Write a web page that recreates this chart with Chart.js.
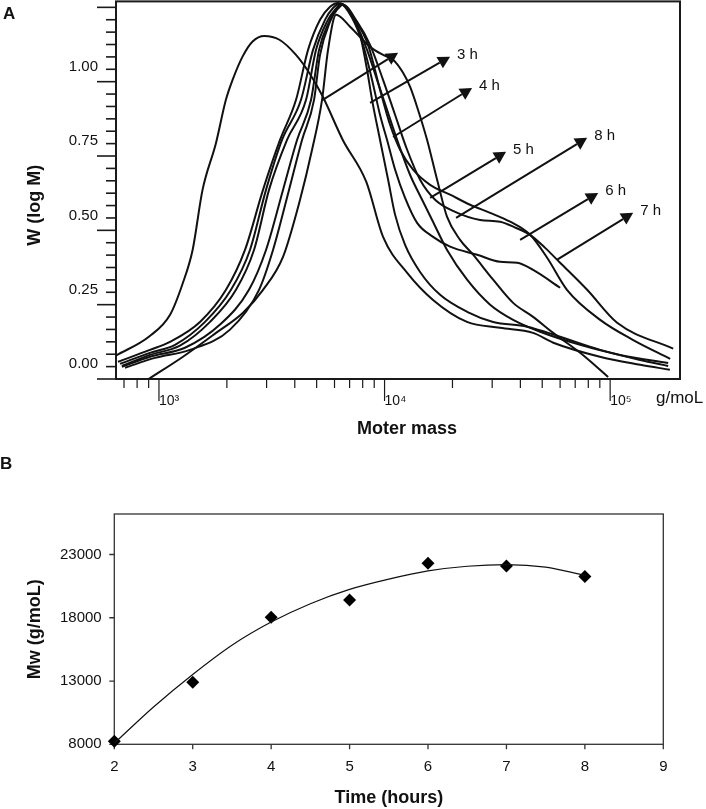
<!DOCTYPE html>
<html>
<head>
<meta charset="utf-8">
<script src="https://cdn.jsdelivr.net/npm/chart.js@4.4.1/dist/chart.umd.min.js"></script>
<style>
  html, body { margin: 0; padding: 0; background: #fff; }
  body { width: 706px; height: 809px; position: relative; overflow: hidden; font-family: 'Liberation Sans', Arial, sans-serif; }
  .panel { position: absolute; font-weight: bold; font-size: 17px; color: #111; }
  #wrapA { position: absolute; left: 0; top: 0; width: 706px; height: 445px; }
  #wrapB { position: absolute; left: 0; top: 440px; width: 706px; height: 369px; }
</style>
</head>
<body>
<div id="wrapA"><canvas id="chartA" width="706" height="445"></canvas></div>
<div id="wrapB"><canvas id="chartB" width="706" height="369"></canvas></div>
<div class="panel" style="left:3px;top:4px">A</div>
<div class="panel" style="left:0px;top:454px">B</div>
<script>
const FONT = "'Liberation Sans', Arial, sans-serif";

// ---- panel A : molar mass distribution, W(log M) vs M (g/mol) ----
const mass2h = [645, 905, 1120, 1275, 1410, 1560, 1790, 1980, 2120, 2350, 2600, 2930, 3420, 4050, 4640, 5320, 6530, 8300, 9850, 12600, 16400, 23200, 32500, 45500, 56000, 90000, 136000, 184000];
const w2h = [0.029, 0.093, 0.166, 0.272, 0.384, 0.586, 0.744, 0.889, 0.956, 1.035, 1.085, 1.104, 1.091, 1.040, 0.979, 0.900, 0.754, 0.613, 0.428, 0.307, 0.216, 0.142, 0.122, 0.105, 0.072, 0.025, -0.002, -0.019];

const mass3h = [658, 912, 1119, 1520, 1982, 2406, 2892, 3440, 4051, 4580, 5176, 5733, 6221, 7031, 7785, 8364, 8803, 9550, 10370, 11140, 12330, 14370, 17630, 23220, 30290, 42840, 60000, 90310, 135800, 180800];
const w3h = [0.008, 0.048, 0.075, 0.142, 0.250, 0.384, 0.586, 0.754, 0.889, 1.057, 1.158, 1.202, 1.215, 1.185, 1.108, 0.990, 0.889, 0.754, 0.620, 0.502, 0.401, 0.310, 0.233, 0.176, 0.142, 0.126, 0.092, 0.048, 0.014, -0.006];

const mass4h = [672, 912, 1178, 1600, 2086, 2532, 2982, 3511, 4263, 4819, 5447, 5909, 6350, 7174, 8028, 8803, 9550, 10260, 11140, 12330, 13940, 16410, 19520, 25720, 32530, 38700, 45550, 60000];
const w4h = [0.001, 0.038, 0.065, 0.142, 0.250, 0.384, 0.586, 0.754, 0.889, 1.057, 1.158, 1.198, 1.212, 1.165, 1.074, 0.956, 0.838, 0.754, 0.654, 0.559, 0.475, 0.428, 0.395, 0.368, 0.344, 0.341, 0.317, 0.257];

const mass5h = [685, 912, 1239, 1684, 2195, 2638, 3075, 3695, 4487, 4969, 5559, 6033, 6480, 7398, 8364, 9262, 10260, 11370, 12970, 14670, 16250, 18930, 23220, 29370, 37150, 48930, 73620, 110750, 180800];
const w5h = [-0.006, 0.031, 0.062, 0.142, 0.250, 0.384, 0.586, 0.754, 0.889, 1.057, 1.152, 1.192, 1.209, 1.152, 1.057, 0.956, 0.855, 0.754, 0.637, 0.553, 0.485, 0.384, 0.284, 0.200, 0.149, 0.109, 0.065, 0.031, 0.004];

const mass6h = [685, 912, 1304, 1865, 2506, 2982, 3547, 4093, 4723, 5124, 5733, 6096, 6415, 7398, 8450, 9550, 10580, 11720, 13380, 15920, 19520, 23940, 29370, 36030, 44180, 52560, 64360, 90310, 126000, 184500];
const w6h = [-0.009, 0.025, 0.055, 0.133, 0.250, 0.384, 0.586, 0.754, 0.889, 1.057, 1.158, 1.195, 1.212, 1.158, 1.074, 0.923, 0.805, 0.721, 0.654, 0.603, 0.570, 0.536, 0.509, 0.479, 0.435, 0.358, 0.250, 0.149, 0.082, 0.018];

const mass7h = [707, 960, 1372, 2065, 2777, 3203, 3771, 4307, 4869, 5176, 5733, 6158, 6546, 7551, 8625, 9847, 11140, 12590, 14370, 16750, 20550, 26520, 32530, 38310, 44180, 51490, 60000, 79070, 107400, 190300];
const w7h = [-0.012, 0.021, 0.048, 0.116, 0.250, 0.384, 0.586, 0.754, 0.889, 1.040, 1.152, 1.192, 1.209, 1.152, 1.074, 0.956, 0.838, 0.721, 0.620, 0.553, 0.512, 0.485, 0.479, 0.458, 0.435, 0.391, 0.341, 0.250, 0.139, 0.052];

const mass8h = [900, 1278, 1790, 2358, 2892, 3547, 4220, 4771, 5283, 5616, 6096, 7031, 8625, 9847, 10910, 12080, 12970, 13940, 15440, 17100, 18930, 21620, 24690, 30290, 37150, 45550, 55880, 73620, 97970];
const w8h = [-0.050, 0.025, 0.105, 0.173, 0.250, 0.361, 0.553, 0.721, 0.889, 1.057, 1.175, 1.135, 1.067, 1.040, 1.024, 0.980, 0.933, 0.865, 0.754, 0.620, 0.495, 0.418, 0.368, 0.284, 0.206, 0.159, 0.105, 0.038, -0.043];

// arrows pointing at the curves (tail on curve, tip up-right)
const arrowLabels = ['', '3 h', '4 h', '5 h', '8 h', '6 h', '7 h'];
const arrowFromM = [5320, 8625, 10910, 15920, 20750, 39900, 58020];
const arrowFromW = [0.889, 0.879, 0.764, 0.559, 0.492, 0.418, 0.351];
const arrowToM = [11480, 19520, 24430, 34570, 79070, 88480, 126500];
const arrowToW = [1.047, 1.034, 0.929, 0.714, 0.761, 0.576, 0.509];

// axis ticks, panel A
const xTicksA = [1000, 10000, 100000];
const xTickTextA = ['10³', '10⁴', '10⁵'];
const xMinorA = [700, 800, 900, 2000, 3000, 4000, 5000, 6000, 7000, 8000, 9000,
                 20000, 30000, 40000, 50000, 60000, 70000, 80000, 90000];
const yTicksA = [0, 0.25, 0.5, 0.75, 1.0];

// ---- panel B : Mw vs time ----
const hours = [2, 3, 4, 5, 6, 7, 8];
const mw = [8250, 12900, 18050, 19400, 22300, 22100, 21270];
const fitHours = [2, 2.5, 3, 3.5, 4, 4.5, 5, 5.5, 6, 6.5, 7, 7.5, 8];
const fitMw = [8080, 10950, 13520, 15830, 17660, 19110, 20240, 21050, 21700, 22070, 22200, 22000, 21350];
const xTicksB = [2, 3, 4, 5, 6, 7, 8, 9];
const yTicksB = [8000, 13000, 18000, 23000];

const toXY = (xs, ys) => xs.map((v, i) => ({ x: v, y: ys[i] }));

function curve(xs, ys) {
    return {
        data: toXY(xs, ys),
        showLine: true,
        borderColor: '#111',
        borderWidth: 2,
        pointRadius: 0,
        cubicInterpolationMode: 'monotone'
    };
}

// fixed axis sizes so the plot box lands where the figure has it
function fixWidth(w) {
    return s => { s.width = w; s.paddingTop = 0; s.paddingBottom = 0; };
}
function fixHeight(h) {
    return s => { s.height = h; s.paddingLeft = 0; s.paddingRight = 0; };
}

const decorA = {
    id: 'decorA',
    beforeDatasetsDraw(chart) {
        const { ctx, chartArea: a, scales: { x, y } } = chart;
        ctx.save();
        ctx.strokeStyle = '#1a1a1a';
        ctx.lineWidth = 2;
        ctx.strokeRect(a.left, a.top, a.right - a.left, a.bottom - a.top);

        // y ticks every 1/6 of 0.25, long ones every 0.25, starting at the bottom
        ctx.lineWidth = 1.6;
        const step = 0.25 / 6;
        for (let k = 0; ; k++) {
            const py = y.getPixelForValue(y.min + k * step);
            if (py < a.top) break;
            ctx.beginPath();
            ctx.moveTo(a.left - (k % 6 === 0 ? 19 : 10), py);
            ctx.lineTo(a.left, py);
            ctx.stroke();
        }
        // x ticks
        ctx.lineWidth = 1.2;
        xMinorA.forEach(v => {
            const px = x.getPixelForValue(v);
            ctx.beginPath(); ctx.moveTo(px, a.bottom); ctx.lineTo(px, a.bottom + 9); ctx.stroke();
        });
        xTicksA.forEach(v => {
            const px = x.getPixelForValue(v);
            ctx.beginPath(); ctx.moveTo(px, a.bottom); ctx.lineTo(px, a.bottom + 22); ctx.stroke();
        });

        // axis titles
        ctx.fillStyle = '#111';
        ctx.textBaseline = 'middle';
        ctx.textAlign = 'center';
        ctx.font = 'bold 18px ' + FONT;
        ctx.fillText('Moter mass', (a.left + a.right) / 2 + 9, a.bottom + 50);
        ctx.save();
        ctx.translate(35, (a.top + a.bottom) / 2 + 15);
        ctx.rotate(-Math.PI / 2);
        ctx.fillText('W (log M)', 0, 0);
        ctx.restore();
        ctx.textAlign = 'left';
        ctx.font = '17px ' + FONT;
        ctx.fillText('g/moL', a.right - 24, a.bottom + 19);
        ctx.restore();
    },
    afterDatasetsDraw(chart) {
        const { ctx, scales: { x, y } } = chart;
        ctx.save();
        ctx.strokeStyle = '#111';
        ctx.fillStyle = '#111';
        ctx.lineWidth = 2;
        ctx.font = '15px ' + FONT;
        ctx.textAlign = 'left';
        ctx.textBaseline = 'middle';
        arrowLabels.forEach((lab, i) => {
            const x0 = x.getPixelForValue(arrowFromM[i]), y0 = y.getPixelForValue(arrowFromW[i]);
            const x1 = x.getPixelForValue(arrowToM[i]), y1 = y.getPixelForValue(arrowToW[i]);
            const ang = Math.atan2(y1 - y0, x1 - x0);
            const c = Math.cos(ang), s = Math.sin(ang);
            const bx = x1 - 12 * c, by = y1 - 12 * s;
            ctx.beginPath(); ctx.moveTo(x0, y0); ctx.lineTo(bx, by); ctx.stroke();
            ctx.beginPath();
            ctx.moveTo(x1, y1);
            ctx.lineTo(bx - 6.5 * s, by + 6.5 * c);
            ctx.lineTo(bx + 6.5 * s, by - 6.5 * c);
            ctx.closePath();
            ctx.fill();
            if (lab) ctx.fillText(lab, x1 + 7, y1 - 2);
        });
        ctx.restore();
    }
};

new Chart(document.getElementById('chartA'), {
    type: 'scatter',
    data: {
        datasets: [
            curve(mass2h, w2h), curve(mass3h, w3h), curve(mass4h, w4h), curve(mass5h, w5h),
            curve(mass6h, w6h), curve(mass7h, w7h), curve(mass8h, w8h)
        ]
    },
    options: {
        responsive: false,
        animation: false,
        devicePixelRatio: 1,
        layout: { padding: { top: 1.4, right: 26, left: 0, bottom: 0 } },
        plugins: { legend: { display: false }, tooltip: { enabled: false } },
        scales: {
            x: {
                type: 'logarithmic',
                min: 645,
                max: 204000,
                grid: { display: false, drawTicks: false },
                border: { display: false },
                afterBuildTicks: s => { s.ticks = xTicksA.map(v => ({ value: v })); },
                afterFit: fixHeight(66),
                ticks: {
                    callback: (v, i) => xTickTextA[i],
                    align: 'start',
                    padding: 14,
                    autoSkip: false,
                    maxRotation: 0,
                    color: '#111',
                    font: { family: FONT, size: 14 }
                }
            },
            y: {
                min: -0.05,
                max: 1.22,
                grid: { display: false, drawTicks: false },
                border: { display: false },
                afterBuildTicks: s => { s.ticks = yTicksA.map(v => ({ value: v })); },
                afterFit: fixWidth(116),
                ticks: {
                    callback: v => v.toFixed(2),
                    padding: 18,
                    autoSkip: false,
                    color: '#111',
                    font: { family: FONT, size: 15 }
                }
            }
        }
    },
    plugins: [decorA]
});

const frameB = {
    id: 'frameB',
    beforeDatasetsDraw(chart) {
        const { ctx, chartArea: a, scales: { x, y } } = chart;
        ctx.save();
        ctx.strokeStyle = '#333';
        ctx.lineWidth = 1.3;
        ctx.strokeRect(a.left, a.top, a.right - a.left, a.bottom - a.top);
        ctx.beginPath();
        xTicksB.forEach(v => {
            const px = x.getPixelForValue(v);
            ctx.moveTo(px, a.bottom); ctx.lineTo(px, a.bottom + 5);
        });
        yTicksB.forEach(v => {
            const py = y.getPixelForValue(v);
            ctx.moveTo(a.left - 5, py); ctx.lineTo(a.left, py);
        });
        ctx.stroke();
        ctx.restore();
    }
};

new Chart(document.getElementById('chartB'), {
    type: 'scatter',
    data: {
        datasets: [
            {
                data: toXY(fitHours, fitMw),
                showLine: true,
                borderColor: '#111',
                borderWidth: 1.2,
                pointRadius: 0,
                cubicInterpolationMode: 'monotone'
            },
            {
                data: toXY(hours, mw),
                pointStyle: 'rectRot',
                pointRadius: 6.5,
                backgroundColor: '#000',
                borderColor: '#000',
                borderWidth: 0,
                clip: false
            }
        ]
    },
    options: {
        responsive: false,
        animation: false,
        devicePixelRatio: 1,
        layout: { padding: { top: 74, right: 42.7, left: 0, bottom: 0 } },
        plugins: { legend: { display: false }, tooltip: { enabled: false } },
        scales: {
            x: {
                type: 'linear',
                min: 2,
                max: 9,
                grid: { display: false, drawTicks: false },
                border: { display: false },
                afterBuildTicks: s => { s.ticks = xTicksB.map(v => ({ value: v })); },
                afterFit: fixHeight(64.7),
                ticks: {
                    padding: 13.4,
                    autoSkip: false,
                    maxRotation: 0,
                    color: '#111',
                    font: { family: FONT, size: 15 }
                },
                title: {
                    display: true,
                    text: 'Time (hours)',
                    color: '#111',
                    padding: { top: 0, bottom: 0 },
                    font: { family: FONT, size: 18, weight: 'bold' }
                }
            },
            y: {
                min: 8000,
                max: 26200,
                grid: { display: false, drawTicks: false },
                border: { display: false },
                afterBuildTicks: s => { s.ticks = yTicksB.map(v => ({ value: v })); },
                afterFit: fixWidth(114.3),
                ticks: {
                    callback: v => String(v),
                    padding: 12.6,
                    autoSkip: false,
                    color: '#111',
                    font: { family: FONT, size: 15 }
                },
                title: {
                    display: true,
                    text: 'Mw (g/moL)',
                    color: '#111',
                    padding: { top: 24, bottom: 0 },
                    font: { family: FONT, size: 18, weight: 'bold' }
                }
            }
        }
    },
    plugins: [frameB]
});
</script>
</body>
</html>
